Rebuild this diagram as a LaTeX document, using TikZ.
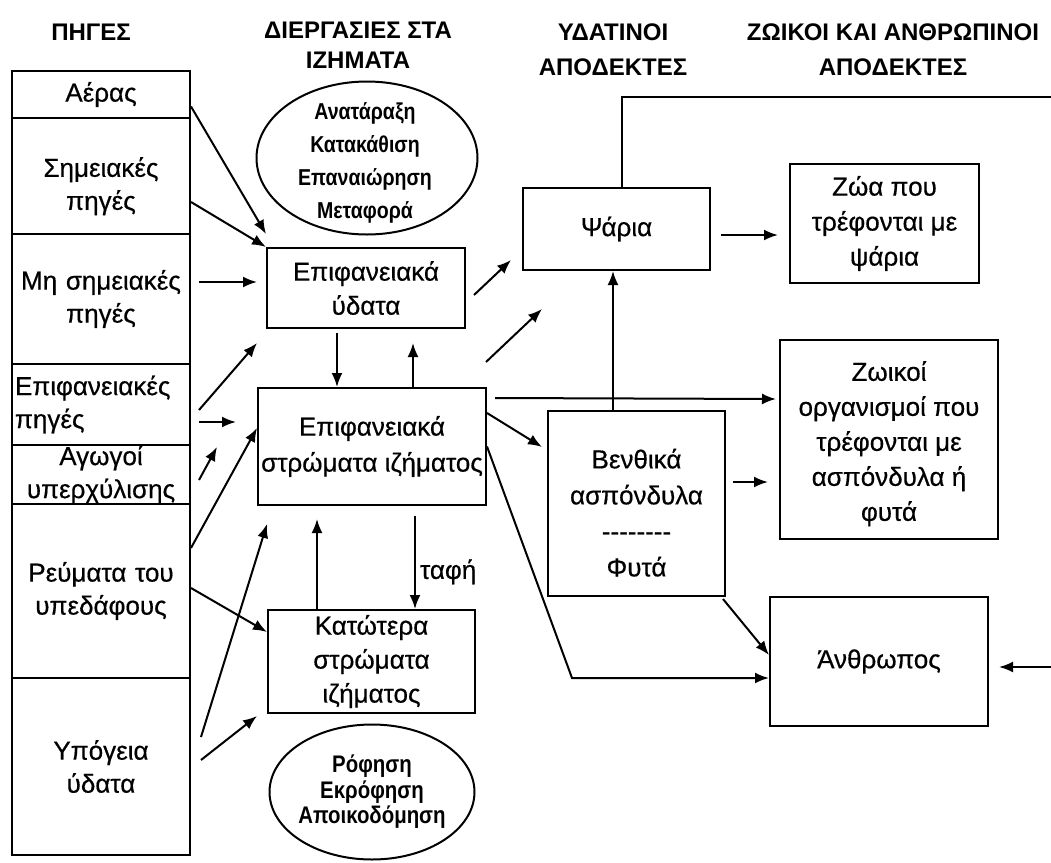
\documentclass[tikz,border=0pt]{standalone}
\usepackage{fontspec}
\setmainfont[FakeBold=0.5]{Liberation Sans}
\newfontfamily\headfont{Liberation Sans}
\newfontfamily\narrowfont[FakeStretch=0.85]{Liberation Sans}
\usetikzlibrary{arrows.meta,calc,shapes.geometric}

\tikzset{
  cell/.style={draw, line width=1pt, text width=86pt, inner xsep=1.5pt, inner ysep=0pt,
    align=center, font=\fontsize{13}{16.5}\selectfont},
  box/.style={draw, line width=1pt, inner sep=1pt, align=center,
    font=\fontsize{13}{17.5}\selectfont},
  proc/.style={draw, ellipse, line width=1pt, inner sep=0pt},
  proctext/.style={align=center, font=\narrowfont\bfseries\fontsize{11.5}{16.5}\selectfont},
  head/.style={align=center, font=\headfont\bfseries\fontsize{12}{15}\selectfont},
  flow/.style={line width=1pt, -{Latex[length=7pt,width=5.5pt]}},
  link/.style={line width=1pt}
}

\begin{document}
\begin{tikzpicture}[x=0.5pt,y=-0.5pt]
        \useasboundingbox (0,0) rectangle (1051,863);

        % headers
        \node[head] (hpig) at (91,32) {ΠΗΓΕΣ};
        \node[head] (hdierg) at (358,45) {ΔΙΕΡΓΑΣΙΕΣ ΣΤΑ\\ΙΖΗΜΑΤΑ};
        \node[head, font=\headfont\bfseries\fontsize{12}{17.5}\selectfont] (hydat) at (613,50) {ΥΔΑΤΙΝΟΙ\\ΑΠΟΔΕΚΤΕΣ};
        \node[head, font=\headfont\bfseries\fontsize{12}{17.5}\selectfont] (hzoik) at (893,50) {ΖΩΙΚΟΙ ΚΑΙ ΑΝΘΡΩΠΙΝΟΙ\\ΑΠΟΔΕΚΤΕΣ};

        % sources
        \node[cell, minimum height=23.5pt] (aeras) at (101,94.5) {Αέρας};
        \node[cell, minimum height=58pt] (simeia) at (101,176) {\rule{0pt}{20pt}Σημειακές\\πηγές};
        \node[cell, minimum height=65pt] (misim) at (101,299) {Μη σημειακές\\πηγές};
        \node[cell, minimum height=40.5pt, align=left] (epifpig) at (101,404.5) {Επιφανειακές\\πηγές};
        \node[cell, minimum height=29.5pt] (agogoi) at (101,474.5) {Αγωγοί\\υπερχύλισης};
        \node[cell, minimum height=87pt] (revmata) at (101,591) {Ρεύματα του\\υπεδάφους};
        \node[cell, minimum height=88.5pt] (ypogeia) at (101,766.5) {Υπόγεια\\ύδατα};

        % sediment processes
        \node[proc, minimum width=110.5pt, minimum height=76.5pt] (procup) at (367,158) {};
        \node[proctext] (procuptxt) at (365,163) {Ανατάραξη\\Κατακάθιση\\Επαναιώρηση\\Μεταφορά};
        \node[box, minimum width=99pt, minimum height=40pt, font=\fontsize{13}{17}\selectfont] (udata) at (366,288) {Επιφανειακά\\ύδατα};
        \node[box, minimum width=114pt, minimum height=58.5pt, font=\fontsize{13}{18}\selectfont] (strom) at (372,446.5) {Επιφανειακά\\στρώματα ιζήματος};
        \node[box, minimum width=103.5pt, minimum height=51.5pt, font=\fontsize{13}{17}\selectfont] (katot) at (371.5,661.5) {Κατώτερα\\στρώματα\\ιζήματος};
        \node[proc, minimum width=102.5pt, minimum height=67.5pt] (procdown) at (372,792) {};
        \node[proctext, font=\narrowfont\bfseries\fontsize{12}{12.75}\selectfont] (procdowntxt) at (372,792) {Ρόφηση\\Εκρόφηση\\Αποικοδόμηση};

        % receptors
        \node[box, minimum width=93.5pt, minimum height=41pt] (psaria) at (616.5,229) {Ψάρια};
        \node[box, minimum width=94.5pt, minimum height=59.5pt] (zoa) at (884.5,223.5) {Ζώα που\\τρέφονται με\\ψάρια};
        \node[box, minimum width=88.5pt, minimum height=92.5pt, font=\fontsize{13}{18}\selectfont] (venth) at (636.5,503.5) {\rule{0pt}{19pt}Βενθικά\\ασπόνδυλα\\-{}-{}-{}-{}-{}-{}-{}-\\Φυτά};
        \node[box, minimum width=109pt, minimum height=99.5pt] (zoikoi) at (889,439.5) {\rule{0pt}{14pt}Ζωικοί\\οργανισμοί που\\τρέφονται με\\ασπόνδυλα ή\\φυτά};
        \node[box, minimum width=109pt, minimum height=64.5pt] (anthr) at (879,661.5) {Άνθρωπος};

        \coordinate (topright) at (1051,97);
        \coordinate (rightin) at (1051,667);

        % sources -> sediment
        \draw[flow] ($(aeras.east)+(0,12)$) -- ($(udata.north west)+(0,-13)$);
        \draw[flow] ($(simeia.east)+(0,26)$) -- (udata.north west);
        \draw[flow] ($(misim.east)+(8,-17)$) -- ($(udata.west)+(-9,-6)$);
        \draw[flow] ($(epifpig.east)+(8,5.5)$) -- ($(udata.south west)+(-9,14)$);
        \draw[flow] ($(epifpig.east)+(8,17.5)$) -- ($(strom.west)+(-21,-24.5)$);
        \draw[flow] ($(agogoi.east)+(8,5.5)$) -- ($(strom.west)+(-40,0.5)$);
        \draw[flow] ($(revmata.east)+(0,-43)$) -- ($(strom.west)+(0,-18.5)$);
        \draw[flow] ($(revmata.east)+(0,-3)$) -- ($(katot.west)+(0,-29.5)$);
        \draw[flow] ($(ypogeia.east)+(10,-29.5)$) -- ($(strom.south west)+(10,18)$);
        \draw[flow] ($(ypogeia.east)+(10,-6.5)$) -- ($(katot.south west)+(-10,2)$);

        % inside the sediment
        \draw[flow] ($(udata.south)+(-29,4)$) -- ($(strom.north)+(-35,0)$);
        \draw[flow] ($(strom.north)+(41,0)$) -- ($(udata.south)+(47,14)$);
        \draw[flow] ($(strom.south)+(43,10)$) -- node[right, inner sep=2pt, font=\fontsize{13}{15}\selectfont, pos=0.6] (tafi) {ταφή} ($(katot.north)+(43.5,0)$);
        \draw[flow] ($(katot.north)+(-54.5,0)$) -- ($(strom.south)+(-55,13)$);

        % to the receptors
        \draw[flow] ($(udata.east)+(8,7)$) -- ($(psaria.west)+(-11,31)$);
        \draw[flow] ($(strom.north east)+(-1,-25)$) -- ($(psaria.south west)+(20,38)$);
        \draw[flow] ($(strom.north east)+(8,11)$) -- ($(zoikoi.west)+(-3,-40.5)$);
        \draw[flow] ($(strom.east)+(0,-33.5)$) -- ($(venth.west)+(-5,-56.5)$);
        \draw[flow] (strom.east) -- ($(anthr.west)+(-197,16.5)$) -- ($(anthr.west)+(0,16.5)$);
        \draw[flow] ($(venth.south east)+(-3,2)$) -- ($(anthr.west)+(0,-6.5)$);
        \draw[flow] ($(venth.north)+(-23.5,0)$) -- ($(psaria.south)+(-3.5,0)$);
        \draw[flow] ($(psaria.east)+(10,6)$) -- ($(zoa.west)+(-11,11.5)$);
        \draw[flow] ($(venth.east)+(7,-21.5)$) -- ($(zoikoi.west)+(-11,42.5)$);
        \draw[link] ($(psaria.north)+(5.5,0)$) |- (topright);
        \draw[flow] (rightin) -- ($(anthr.east)+(10,5.5)$);
    \end{tikzpicture}
\end{document}
